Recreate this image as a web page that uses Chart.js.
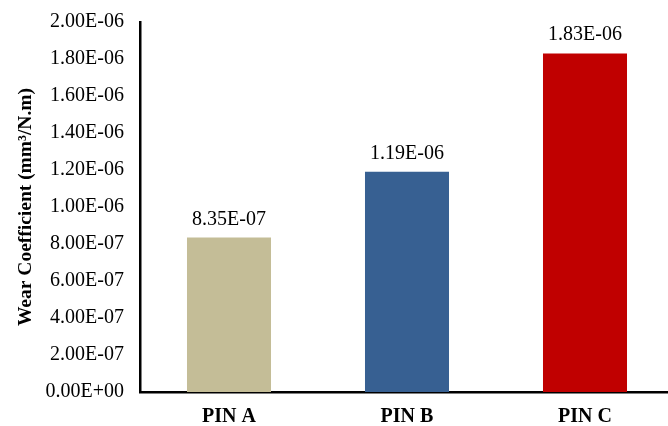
<!DOCTYPE html>
<html lang="en">
<head>
  <meta charset="UTF-8" />
  <title>Wear Coefficient</title>
  <script src="https://cdn.jsdelivr.net/npm/chart.js"></script>
  <style>
    * { margin: 0; padding: 0; box-sizing: border-box; }
    html, body { width: 668px; height: 426px; overflow: hidden; background: white; }
    .chart-container { position: relative; width: 676px; height: 426px; }
  </style>
</head>
<body>
  <div class="chart-container">
    <canvas id="wearChart"></canvas>
  </div>

  <script>
    const pins = ["PIN A", "PIN B", "PIN C"];
    const wearCoefficients = [8.35e-7, 1.19e-6, 1.83e-6];
    const barColors = ["#c4bd97", "#376092", "#c00000"];

    // 1.19e-6 -> "1.19E-06"
    function sci(v) {
      const parts = Number(v).toExponential(2).split("e");
      const sign = parts[1][0];
      const exp = parts[1].slice(1).padStart(2, "0");
      return parts[0] + "E" + sign + exp;
    }

    const serif = "'Liberation Serif', 'Times New Roman', serif";

    // value labels above the bars
    const valueLabels = {
      id: 'valueLabels',
      afterDatasetsDraw(chart) {
        const ctx = chart.ctx;
        const meta = chart.getDatasetMeta(0);
        ctx.save();
        ctx.font = "20px " + serif;
        ctx.fillStyle = "#000";
        ctx.textAlign = "center";
        ctx.textBaseline = "alphabetic";
        meta.data.forEach((bar, i) => {
          ctx.fillText(sci(wearCoefficients[i]), bar.x, bar.y - 13);
        });
        ctx.restore();
      }
    };

    new Chart(document.getElementById("wearChart"), {
      type: 'bar',
      data: {
        labels: pins,
        datasets: [{
          data: wearCoefficients,
          backgroundColor: barColors,
          barPercentage: 0.472,
          categoryPercentage: 1
        }]
      },
      options: {
        responsive: true,
        maintainAspectRatio: false,
        animation: false,
        layout: { padding: { top: 22, right: 2, left: 0, bottom: 0 } },
        plugins: {
          legend: { display: false },
          tooltip: { enabled: false }
        },
        scales: {
          x: {
            grid: { display: false, drawTicks: false },
            border: { color: "#000", width: 2.5 },
            ticks: {
              color: "#000",
              padding: 13,
              font: { family: serif, size: 20, weight: 'bold' }
            },
            afterFit(scale) { scale.height = 34; }
          },
          y: {
            min: 0,
            max: 2e-6,
            grid: { display: false, drawTicks: false },
            border: { color: "#000", width: 2.5 },
            ticks: {
              stepSize: 2e-7,
              color: "#000",
              padding: 16,
              font: { family: serif, size: 20 },
              callback: (v) => sci(v)
            },
            title: {
              display: true,
              text: "Wear Coefficient (mm³/N.m)",
              color: "#000",
              padding: { top: 14, bottom: 0 },
              font: { family: serif, size: 19.5, weight: 'bold' }
            },
            afterFit(scale) {
              scale.width = 140;
              scale.paddingTop = 12;
              scale.paddingBottom = 12;
            }
          }
        }
      },
      plugins: [valueLabels]
    });
  </script>
</body>
</html>
